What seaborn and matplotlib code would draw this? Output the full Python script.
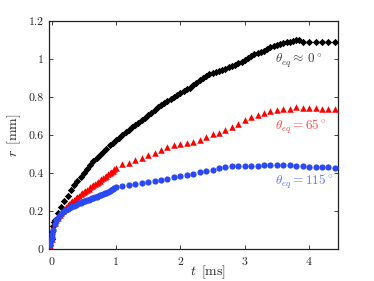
import numpy as np
import pandas as pd
import seaborn as sns
import matplotlib.pyplot as plt

# --- data ---
# black, theta_eq ~ 0 deg (dense sampling, then sparse plateau)
t_black_early = [-0.02, 0.0, 0.01, 0.02, 0.03]
r_black_early = [0.02, 0.05, 0.09, 0.12, 0.14]
r_black = [0.15, 0.19, 0.22, 0.25, 0.28, 0.31, 0.335, 0.36, 0.38, 0.40,
           0.42, 0.44, 0.465, 0.48, 0.495, 0.51, 0.525, 0.545, 0.56, 0.575,
           0.585, 0.60, 0.615, 0.625, 0.64, 0.655, 0.665, 0.68, 0.69, 0.705,
           0.715, 0.73, 0.745, 0.76, 0.77, 0.78, 0.79, 0.80, 0.81, 0.82,
           0.83, 0.84, 0.85, 0.863, 0.875, 0.89, 0.90, 0.912, 0.92, 0.927,
           0.933, 0.939, 0.945, 0.95, 0.956, 0.963, 0.97, 0.978, 0.985, 0.995,
           1.005, 1.015, 1.025, 1.03, 1.035, 1.045, 1.055, 1.065, 1.07, 1.075,
           1.08, 1.085, 1.088, 1.092, 1.096, 1.10, 1.10]
t_black_tail = [3.9, 4.0, 4.1, 4.2, 4.3, 4.4]
r_black_tail = [1.092, 1.09, 1.09, 1.09, 1.09, 1.09]

# red, theta_eq = 65 deg
t_red_early = [-0.02, 0.0, 0.01]
r_red_early = [0.02, 0.05, 0.08]
r_red = [0.11, 0.135, 0.15, 0.165, 0.178, 0.19, 0.20, 0.21, 0.22, 0.23,
         0.238, 0.245, 0.252, 0.26, 0.267, 0.274, 0.28, 0.287, 0.294, 0.30,
         0.306, 0.312, 0.318, 0.324, 0.33, 0.336, 0.342, 0.348, 0.354, 0.36,
         0.366, 0.373, 0.38, 0.386, 0.393, 0.40, 0.406, 0.413, 0.42, 0.427]
r_red_tail = [0.445, 0.455, 0.468, 0.48, 0.495, 0.505, 0.522, 0.537, 0.546, 0.551,
              0.56, 0.565, 0.574, 0.59, 0.603, 0.61, 0.625, 0.64, 0.657, 0.678,
              0.695, 0.707, 0.717, 0.726, 0.732, 0.735, 0.739, 0.745, 0.742, 0.742,
              0.742, 0.739, 0.735, 0.735]

# blue, theta_eq = 115 deg
t_blue_early = [-0.02, -0.01, 0.0, 0.01]
r_blue_early = [0.02, 0.04, 0.06, 0.08]
r_blue = [0.10, 0.13, 0.15, 0.165, 0.177, 0.186, 0.193, 0.199, 0.205, 0.21,
          0.215, 0.22, 0.224, 0.228, 0.232, 0.236, 0.24, 0.243, 0.246, 0.25,
          0.253, 0.256, 0.259, 0.263, 0.266, 0.269, 0.272, 0.275, 0.278, 0.282,
          0.285, 0.289, 0.293, 0.297, 0.301, 0.305, 0.31, 0.314, 0.319, 0.324]
r_blue_tail = [0.33, 0.336, 0.341, 0.346, 0.351, 0.357, 0.364, 0.371, 0.377, 0.383,
               0.39, 0.396, 0.403, 0.41, 0.418, 0.425, 0.431, 0.435, 0.437, 0.438,
               0.439, 0.439, 0.44, 0.441, 0.442, 0.442, 0.44, 0.439, 0.437, 0.434,
               0.432, 0.43, 0.429, 0.428]

labels = [r'$\theta_{eq}\approx\,0^\circ$', r'$\theta_{eq}=65^\circ$', r'$\theta_{eq}=115^\circ$']

# sampling times of the recordings
t_black = np.round(np.linspace(0.05, 3.85, len(r_black)), 3)
t_dense = np.round(np.linspace(0.025, 1.0, len(r_red)), 3)
t_tail = np.round(np.linspace(1.1, 4.4, len(r_red_tail)), 2)

frames = [
    pd.DataFrame({'t': list(t_black_early) + list(t_black) + t_black_tail,
                  'r': r_black_early + r_black + r_black_tail, 'case': 'black'}),
    pd.DataFrame({'t': list(t_red_early) + list(t_dense) + list(t_tail),
                  'r': r_red_early + r_red + r_red_tail, 'case': 'red'}),
    pd.DataFrame({'t': list(t_blue_early) + list(t_dense) + list(t_tail),
                  'r': r_blue_early + r_blue + r_blue_tail, 'case': 'blue'}),
]
df = pd.concat(frames, ignore_index=True)

sns.set_style('ticks')
plt.rcParams['font.family'] = 'serif'
plt.rcParams['font.serif'] = ['cmr10', 'DejaVu Serif']
plt.rcParams['mathtext.fontset'] = 'cm'
plt.rcParams['axes.formatter.use_mathtext'] = True

fig = plt.figure(figsize=(3.74, 2.81), dpi=100)
ax = fig.add_axes([0.131, 0.114, 0.773, 0.811])

palette = {'black': 'black', 'red': '#ff0000', 'blue': '#2a48f5'}
markers = {'black': 'D', 'red': '^', 'blue': 'o'}
sizes = {'black': 14, 'red': 22, 'blue': 20}
for case in ['black', 'red', 'blue']:
    sub = df[df['case'] == case]
    sns.scatterplot(data=sub, x='t', y='r', color=palette[case], marker=markers[case],
                    s=sizes[case], linewidth=0, ax=ax, legend=False, zorder=3)

ax.text(3.47, 0.99, labels[0], color='#404040', fontsize=9.5, va='center')
ax.text(3.47, 0.645, labels[1], color='#ff4a4a', fontsize=9.5, va='center')
ax.text(3.47, 0.352, labels[2], color='#5a74ff', fontsize=9.5, va='center')

ax.set_xlim(-0.04, 4.45)
ax.set_ylim(0, 1.2)
ax.set_xticks([0, 1, 2, 3, 4])
ax.set_yticks([0, 0.2, 0.4, 0.6, 0.8, 1, 1.2])
ax.set_yticklabels(['0', '0.2', '0.4', '0.6', '0.8', '1', '1.2'])
ax.tick_params(direction='in', top=True, right=True, length=3, width=0.6,
               labelsize=8.5, colors='#222222', pad=4)
for sp in ax.spines.values():
    sp.set_linewidth(0.9)
    sp.set_color('#222222')
ax.set_xlabel(r'$t\ \,[\mathrm{ms}]$', fontsize=10)
ax.set_ylabel(r'$r\ \,[\mathrm{mm}]$', fontsize=10, labelpad=4)
ax.xaxis.set_label_coords(0.55, -0.065)

fig.savefig('out.png', dpi=100)
